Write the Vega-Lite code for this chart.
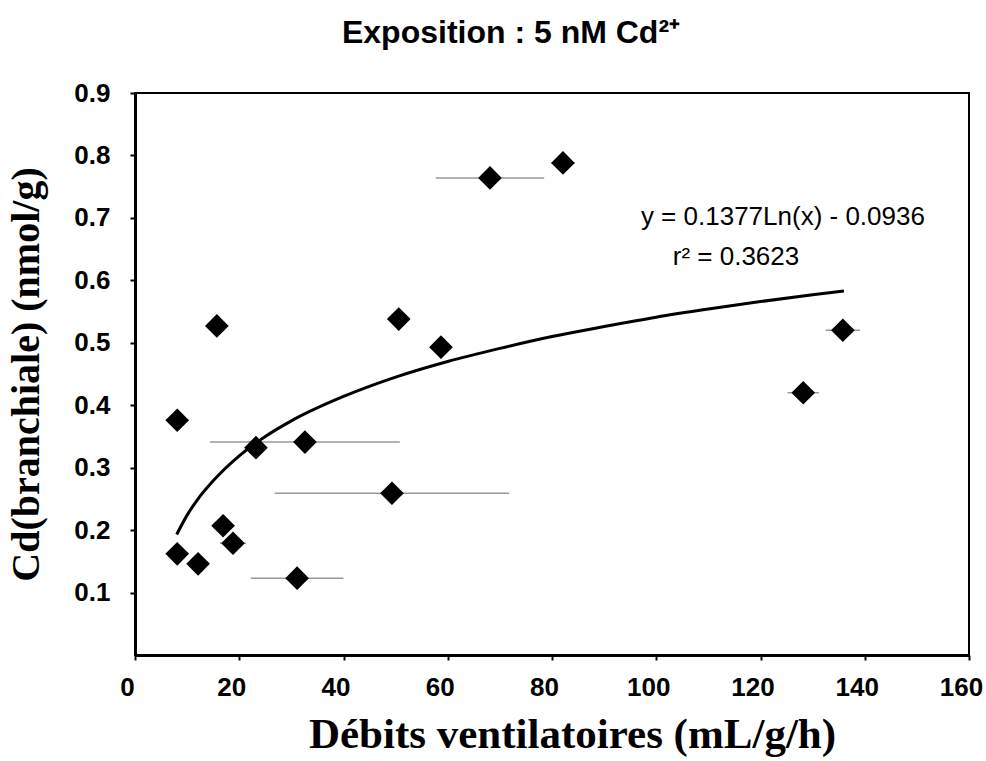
{
  "$schema": "https://vega.github.io/schema/vega-lite/v6.json",
  "width": 834,
  "height": 562,
  "autosize": "none",
  "padding": {"left": 135, "top": 93, "right": 17, "bottom": 106},
  "background": "white",
  "title": {
    "text": "Exposition : 5 nM Cd²⁺",
    "font": "Liberation Sans",
    "fontSize": 32,
    "fontWeight": "bold",
    "color": "black",
    "anchor": "middle",
    "dx": -41,
    "offset": 30
  },
  "config": {
    "view": {"stroke": "black", "strokeWidth": 2},
    "axis": {"grid": false, "domainColor": "black", "domainWidth": 3, "tickColor": "black", "tickWidth": 2, "tickSize": 5, "labelColor": "black", "titleColor": "black"}
  },
  "datasets": {
    "points": [
      {"debit": 8.1, "cd": 0.376},
      {"debit": 8.1, "cd": 0.162},
      {"debit": 12.1, "cd": 0.146},
      {"debit": 15.7, "cd": 0.527},
      {"debit": 16.9, "cd": 0.207},
      {"debit": 18.8, "cd": 0.179, "lo": 16.3, "hi": 21.3},
      {"debit": 23.2, "cd": 0.332},
      {"debit": 32.6, "cd": 0.341, "lo": 14.4, "hi": 50.8},
      {"debit": 31.1, "cd": 0.123, "lo": 22.2, "hi": 40.0},
      {"debit": 49.3, "cd": 0.259, "lo": 26.8, "hi": 71.8},
      {"debit": 50.6, "cd": 0.538},
      {"debit": 58.7, "cd": 0.493},
      {"debit": 68.1, "cd": 0.764, "lo": 57.7, "hi": 78.5},
      {"debit": 82.1, "cd": 0.788, "lo": 79.8, "hi": 84.4},
      {"debit": 128.2, "cd": 0.420, "lo": 125.2, "hi": 131.2},
      {"debit": 135.8, "cd": 0.520, "lo": 132.5, "hi": 139.1}
    ],
    "trend": [
      {"debit": 8, "cd": 0.193},
      {"debit": 10, "cd": 0.224},
      {"debit": 12, "cd": 0.249},
      {"debit": 15, "cd": 0.279},
      {"debit": 20, "cd": 0.319},
      {"debit": 25, "cd": 0.350},
      {"debit": 30, "cd": 0.375},
      {"debit": 40, "cd": 0.414},
      {"debit": 50, "cd": 0.445},
      {"debit": 60, "cd": 0.470},
      {"debit": 70, "cd": 0.491},
      {"debit": 80, "cd": 0.510},
      {"debit": 90, "cd": 0.526},
      {"debit": 100, "cd": 0.541},
      {"debit": 110, "cd": 0.554},
      {"debit": 120, "cd": 0.566},
      {"debit": 130, "cd": 0.577},
      {"debit": 136, "cd": 0.583}
    ],
    "notes": [
      {"debit": 124.3, "cd": 0.701, "label": "y = 0.1377Ln(x) - 0.0936"},
      {"debit": 115.3, "cd": 0.637, "label": "r² = 0.3623"}
    ]
  },
  "encoding": {
    "x": {
      "field": "debit", "type": "quantitative",
      "scale": {"domain": [0, 160], "nice": false, "zero": false},
      "axis": {
        "title": "Débits ventilatoires (mL/g/h)",
        "values": [0, 20, 40, 60, 80, 100, 120, 140, 160],
        "labelFont": "Liberation Sans", "labelFontSize": 26, "labelFontWeight": "bold",
        "labelPadding": 14, "labelOffset": -8, "labelFlush": false,
        "titleFont": "Liberation Serif", "titleFontSize": 43, "titleFontWeight": "bold",
        "titlePadding": 13, "titleX": 437
      }
    },
    "y": {
      "field": "cd", "type": "quantitative",
      "scale": {"domain": [0, 0.9], "nice": false, "zero": false},
      "axis": {
        "title": "Cd(branchiale) (nmol/g)",
        "values": [0.1, 0.2, 0.3, 0.4, 0.5, 0.6, 0.7, 0.8, 0.9],
        "format": ".1f",
        "labelFont": "Liberation Sans", "labelFontSize": 26, "labelFontWeight": "bold",
        "labelPadding": 20,
        "titleFont": "Liberation Serif", "titleFontSize": 40, "titleFontWeight": "bold",
        "titlePadding": 27
      }
    }
  },
  "layer": [
    {
      "data": {"name": "points"},
      "transform": [{"filter": "isValid(datum.lo)"}],
      "mark": {"type": "rule", "color": "#999999", "strokeWidth": 1.5},
      "encoding": {"x": {"field": "lo", "type": "quantitative"}, "x2": {"field": "hi"}}
    },
    {
      "data": {"name": "trend"},
      "mark": {"type": "line", "color": "black", "strokeWidth": 3, "interpolate": "monotone"},
      "encoding": {}
    },
    {
      "data": {"name": "points"},
      "mark": {"type": "point", "shape": "diamond", "filled": true, "color": "black", "opacity": 1, "size": 560},
      "encoding": {}
    },
    {
      "data": {"name": "notes"},
      "mark": {"type": "text", "font": "Liberation Sans", "fontSize": 26, "color": "black", "align": "center", "baseline": "middle"},
      "encoding": {"text": {"field": "label"}}
    }
  ]
}
